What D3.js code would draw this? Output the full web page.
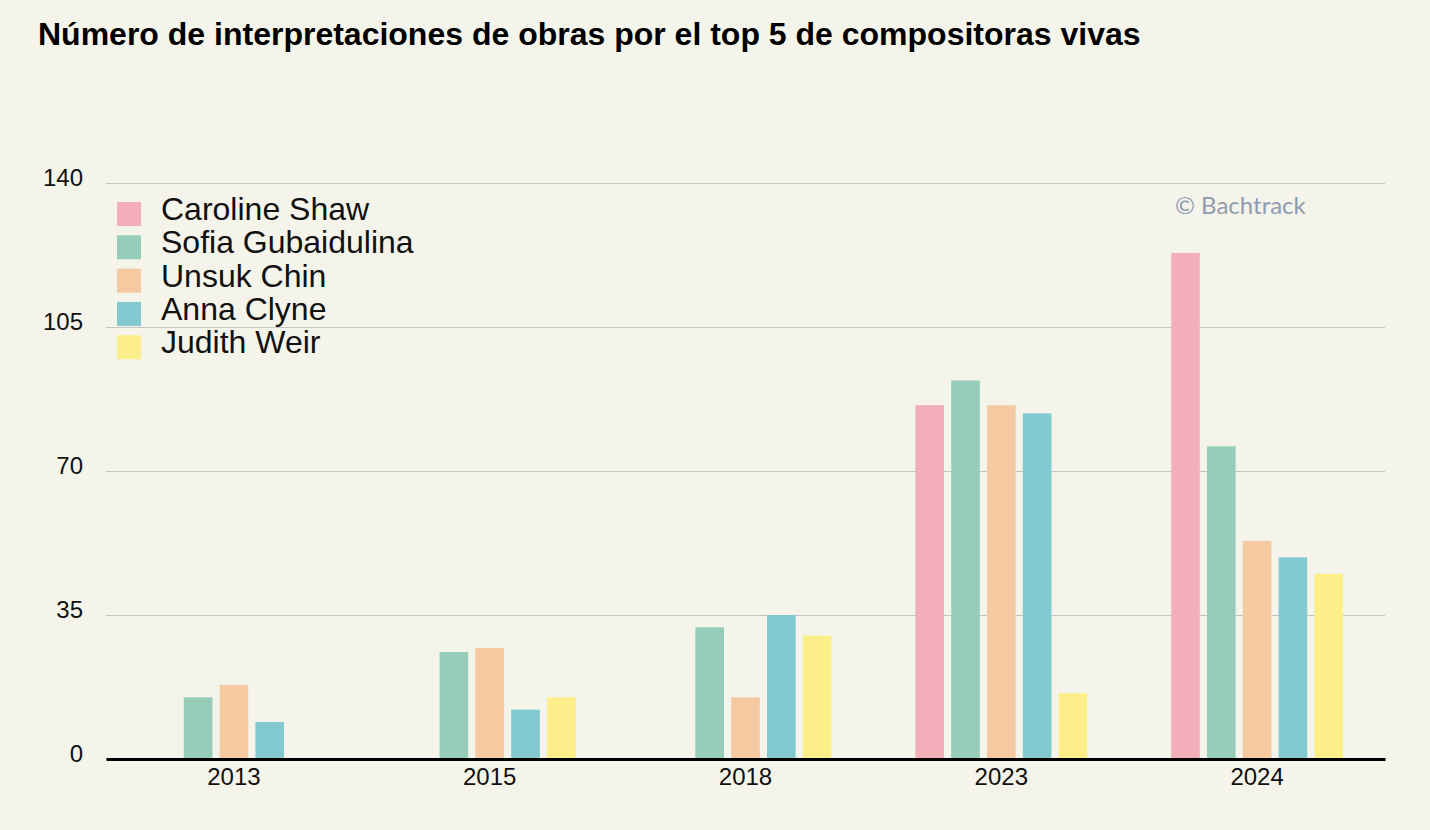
<!DOCTYPE html>
<html>
<head>
<meta charset="utf-8">
<script src="https://cdn.jsdelivr.net/npm/d3@7"></script>
<style>
  body { margin: 0; background: #f5f4ea; }
  svg { display: block; font-family: "Liberation Sans", Arial, sans-serif; }
</style>
</head>
<body>
<div id="chart"></div>
<script>
// data
const years = ["2013", "2015", "2018", "2023", "2024"];
const composers = ["Caroline Shaw", "Sofia Gubaidulina", "Unsuk Chin", "Anna Clyne", "Judith Weir"];
const carolineShaw = [null, null, null, 86, 123];
const sofiaGubaidulina = [15, 26, 32, 92, 76];
const unsukChin = [18, 27, 15, 86, 53];
const annaClyne = [9, 12, 35, 84, 49];
const judithWeir = [null, 15, 30, 16, 45];
const yTicks = [0, 35, 70, 105, 140];
const colors = ["#f2afba", "#95cdb9", "#f5caa0", "#82c9d0", "#fcef8a"];

const seriesValues = [carolineShaw, sofiaGubaidulina, unsukChin, annaClyne, judithWeir];

const width = 1430;
const height = 830;
const margin = { top: 183, right: 45, bottom: 71, left: 106 };

const svg = d3
  .select("#chart")
  .append("svg")
  .attr("width", width)
  .attr("height", height);

svg.append("rect").attr("width", width).attr("height", height).attr("fill", "#f5f4ea");

// title
svg
  .append("text")
  .attr("x", 38)
  .attr("y", 45)
  .attr("font-size", 32)
  .attr("font-weight", "bold")
  .attr("fill", "#000")
  .text("Número de interpretaciones de obras por el top 5 de compositoras vivas");

const x0 = d3
  .scaleBand()
  .domain(years)
  .range([margin.left, width - margin.right])
  .paddingInner(0.3)
  .paddingOuter(0.15);

const x1 = d3
  .scaleBand()
  .domain(composers)
  .range([0, x0.bandwidth()])
  .paddingInner(0.2)
  .paddingOuter(0.1);

const y = d3
  .scaleLinear()
  .domain([0, 140])
  .range([height - margin.bottom, margin.top]);

const color = d3.scaleOrdinal().domain(composers).range(colors);

// gridlines + y labels
const yAxis = svg
  .append("g")
  .attr("transform", "translate(" + margin.left + ",0)")
  .attr("font-size", 24)
  .attr("font-family", "Liberation Sans, Arial, sans-serif")
  .call(
    d3
      .axisLeft(y)
      .tickValues(yTicks)
      .tickSize(-(width - margin.right - margin.left))
      .tickPadding(23)
  );
yAxis.attr("font-size", 24).attr("font-family", "Liberation Sans, Arial, sans-serif");
yAxis.select(".domain").remove();
yAxis.selectAll(".tick line").attr("stroke", "#c4c4c4").attr("stroke-width", 1);
yAxis
  .selectAll(".tick text")
  .attr("fill", "#111")
  .attr("dy", "0.12em");

// bars
const rows = years.map((yr, i) => ({
  year: yr,
  values: composers.map((c, j) => ({ name: c, value: seriesValues[j][i] })),
}));

svg
  .append("g")
  .selectAll("g")
  .data(rows)
  .join("g")
  .attr("transform", (d) => "translate(" + x0(d.year) + ",0)")
  .selectAll("rect")
  .data((d) => d.values.filter((v) => v.value != null))
  .join("rect")
  .attr("x", (d) => x1(d.name))
  .attr("y", (d) => y(d.value))
  .attr("width", x1.bandwidth())
  .attr("height", (d) => y(0) - y(d.value))
  .attr("fill", (d) => color(d.name));

// x axis
const xAxis = svg
  .append("g")
  .attr("transform", "translate(0," + y(0) + ")")
  .call(d3.axisBottom(x0).tickSize(0).tickPadding(9));
xAxis.attr("font-size", 24).attr("font-family", "Liberation Sans, Arial, sans-serif");
xAxis.select(".domain").attr("stroke", "#000").attr("stroke-width", 3);
xAxis.selectAll(".tick text").attr("fill", "#111");

// legend
const legend = svg
  .append("g")
  .selectAll("g")
  .data(composers)
  .join("g")
  .attr("transform", (d, i) => "translate(117," + (202 + i * 33.3) + ")");

legend
  .append("rect")
  .attr("width", 24)
  .attr("height", 24)
  .attr("fill", (d) => color(d));

legend
  .append("text")
  .attr("x", 44)
  .attr("y", 18)
  .attr("font-size", 32)
  .attr("fill", "#111")
  .text((d) => d);

// watermark
svg
  .append("text")
  .attr("x", 1175)
  .attr("y", 214)
  .attr("font-size", 24)
  .attr("font-family", "Lato, sans-serif")
  .attr("fill", "#8f9bb0")
  .text("© Bachtrack");
</script>
</body>
</html>
